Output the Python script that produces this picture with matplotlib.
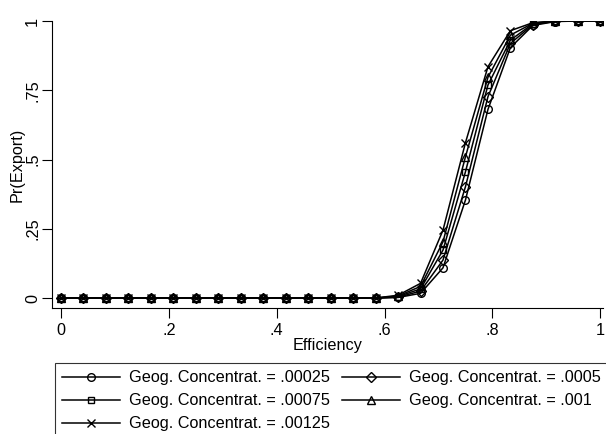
import matplotlib.pyplot as plt
from matplotlib.ticker import FixedLocator

plt.rcParams["font.family"] = ["Liberation Sans", "DejaVu Sans"]
FS = 11.7

efficiency = [0, .0417, .0833, .125, .1667, .2083, .25, .2917, .3333, .375,
              .4167, .4583, .5, .5417, .5833, .625, .6667, .7083, .75, .7917,
              .8333, .875, .9167, .9583, 1]

zeros = [0.0] * 15
pr_00025 = zeros + [0.002, 0.017, 0.109, 0.354, 0.681, 0.904, 0.984, 0.998, 1.0, 1.0]
pr_0005 = zeros + [0.003, 0.025, 0.137, 0.402, 0.727, 0.919, 0.987, 0.999, 1.0, 1.0]
pr_00075 = zeros + [0.005, 0.033, 0.173, 0.456, 0.769, 0.931, 0.990, 0.999, 1.0, 1.0]
pr_001 = zeros + [0.007, 0.042, 0.203, 0.510, 0.797, 0.949, 0.992, 1.0, 1.0, 1.0]
pr_00125 = zeros + [0.010, 0.053, 0.245, 0.561, 0.835, 0.965, 0.994, 1.0, 1.0, 1.0]

labels = ["Geog. Concentrat. = .00025", "Geog. Concentrat. = .0005",
          "Geog. Concentrat. = .00075", "Geog. Concentrat. = .001",
          "Geog. Concentrat. = .00125"]
series = [pr_00025, pr_0005, pr_00075, pr_001, pr_00125]
markers = ["o", "D", "s", "^", "x"]
msizes = [5.5, 5, 5, 5.5, 5.5]

fig = plt.figure(figsize=(6.06, 4.34), dpi=100)
ax = fig.add_axes([52 / 606, 126 / 434, 551 / 606, 287 / 434])

handles = []
for y, m, ms, lab in zip(series, markers, msizes, labels):
    h, = ax.plot(efficiency, y, color="black", lw=1.1, marker=m, ms=ms,
                 mfc="none", mec="black", mew=1.0, label=lab)
    handles.append(h)

ax.set_xlim(-0.0167, 1.005)
ax.set_ylim(-0.036, 1.0)
ax.xaxis.set_major_locator(FixedLocator([0, .2, .4, .6, .8, 1]))
ax.yaxis.set_major_locator(FixedLocator([0, .25, .5, .75, 1]))
ax.set_xticklabels(["0", ".2", ".4", ".6", ".8", "1"])
ax.set_yticklabels(["0", ".25", ".5", ".75", "1"], rotation=90, va="center")
ax.tick_params(direction="out", length=7, width=0.8, labelsize=FS)
ax.tick_params(axis="x", pad=3.5)
ax.tick_params(axis="y", pad=1.5)
for side in ["top", "right"]:
    ax.spines[side].set_visible(False)
for side in ["left", "bottom"]:
    ax.spines[side].set_linewidth(0.8)

ax.set_xlabel("Efficiency", fontsize=FS, labelpad=0)
ax.set_ylabel("Pr(Export)", fontsize=FS, labelpad=0.5)

# stata fills the legend row by row, matplotlib column by column
order = [0, 2, 4, 1, 3]
leg = fig.legend([handles[i] for i in order], [labels[i] for i in order],
                 ncol=2, loc="upper left",
                 bbox_to_anchor=(55 / 606, 1 - 363 / 434),
                 fontsize=FS, frameon=True, fancybox=False,
                 edgecolor="black", handlelength=3.57, handletextpad=0.55,
                 columnspacing=0.75, labelspacing=0.49, borderaxespad=0,
                 borderpad=0.45)
leg.get_frame().set_linewidth(0.8)

fig.savefig("out.png", dpi=100)
